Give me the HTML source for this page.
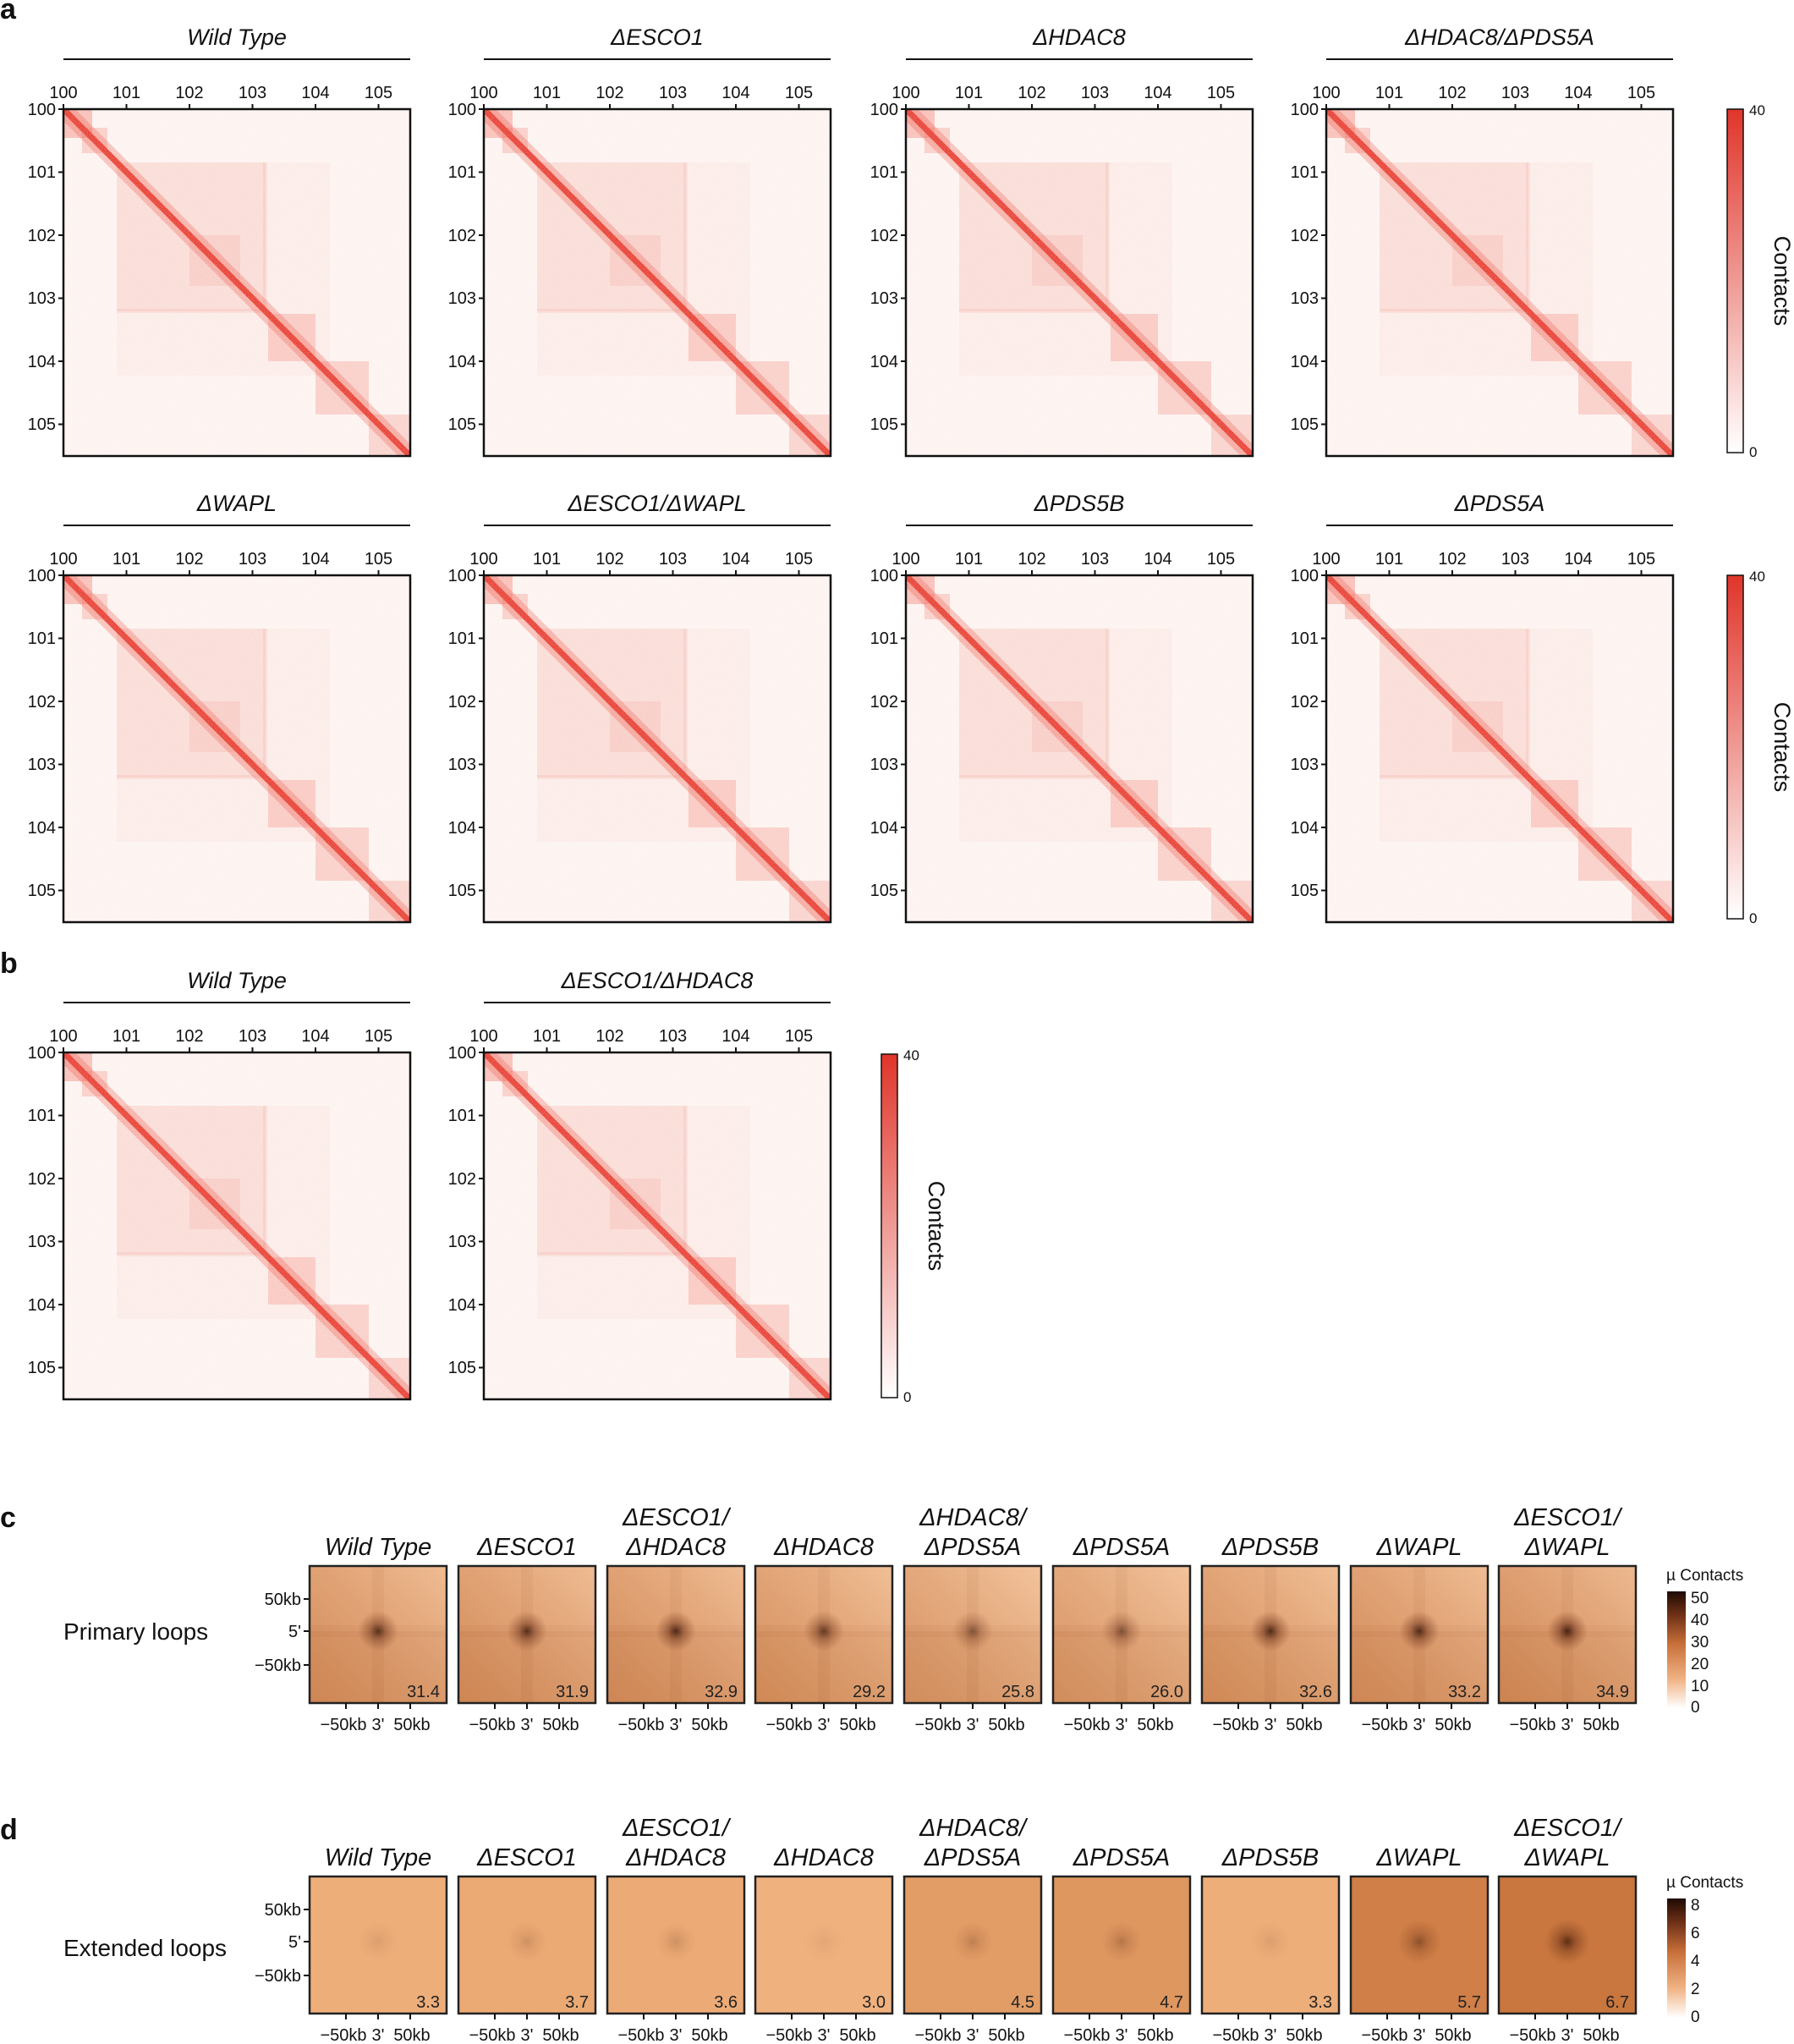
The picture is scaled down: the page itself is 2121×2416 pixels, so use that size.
<!DOCTYPE html>
<html><head><meta charset="utf-8"><style>
html,body{margin:0;padding:0;background:#fff;}
svg{display:block;font-family:"Liberation Sans",Arial,sans-serif;}
</style></head><body>
<svg width="2121" height="2416" viewBox="0 0 2121 2416" xmlns="http://www.w3.org/2000/svg">
<defs>
<clipPath id="cb"><rect x="0" y="0" width="410" height="410"/></clipPath>
<filter id="nz" x="0" y="0" width="1" height="1">
<feTurbulence type="fractalNoise" baseFrequency="1.2" numOctaves="1" seed="3" result="t"/>
<feColorMatrix in="t" type="matrix" values="0 0 0 0 1  0 0 0 0 1  0 0 0 0 1  0 0 0 -2 1.25" result="m"/>
<feComposite in="m" in2="SourceGraphic" operator="in"/>
</filter>
<g id="hmb">
<g clip-path="url(#cb)">
<rect x="0" y="0" width="410" height="410" fill="#fdf3f0"/>
<g fill="#ee5a48">
<rect x="63" y="63" width="176" height="176" opacity="0.11"/>
<rect x="63" y="63" width="252" height="252" opacity="0.05"/>
<rect x="0" y="0" width="34" height="34" opacity="0.35"/>
<rect x="22" y="22" width="30" height="30" opacity="0.25"/>
<rect x="149" y="149" width="60" height="60" opacity="0.12"/>
<rect x="242" y="242" width="56" height="56" opacity="0.25"/>
<rect x="298" y="298" width="63" height="63" opacity="0.25"/>
<rect x="361" y="361" width="49" height="49" opacity="0.22"/>
<rect x="63" y="236" width="176" height="5" opacity="0.1"/>
<rect x="236" y="63" width="5" height="176" opacity="0.1"/>
</g>
<line x1="0" y1="0" x2="410" y2="410" stroke="#ee4a3a" stroke-width="20" opacity="0.3"/>
<line x1="0" y1="0" x2="410" y2="410" stroke="#e8392c" stroke-width="7"/>
<rect x="0" y="0" width="410" height="410" fill="#fff" filter="url(#nz)" opacity="0.45"/>
</g>
</g>
<g id="ax" font-size="20" fill="#111">
<g stroke="#111" stroke-width="2">
<line x1="0" y1="0" x2="0" y2="-6"/><line x1="74.5" y1="0" x2="74.5" y2="-6"/><line x1="149" y1="0" x2="149" y2="-6"/><line x1="223.5" y1="0" x2="223.5" y2="-6"/><line x1="298" y1="0" x2="298" y2="-6"/><line x1="372.5" y1="0" x2="372.5" y2="-6"/>
<line x1="0" y1="0" x2="-6" y2="0"/><line x1="0" y1="74.5" x2="-6" y2="74.5"/><line x1="0" y1="149" x2="-6" y2="149"/><line x1="0" y1="223.5" x2="-6" y2="223.5"/><line x1="0" y1="298" x2="-6" y2="298"/><line x1="0" y1="372.5" x2="-6" y2="372.5"/>
</g>
<rect x="0" y="0" width="410" height="410" fill="none" stroke="#111" stroke-width="2.5"/>
<g text-anchor="middle">
<text x="0" y="-13">100</text><text x="74.5" y="-13">101</text><text x="149" y="-13">102</text><text x="223.5" y="-13">103</text><text x="298" y="-13">104</text><text x="372.5" y="-13">105</text>
</g>
<g text-anchor="end">
<text x="-9" y="7">100</text><text x="-9" y="81">101</text><text x="-9" y="156">102</text><text x="-9" y="230">103</text><text x="-9" y="305">104</text><text x="-9" y="379">105</text>
</g>
</g>
<g id="hm"><use href="#hmb"/><use href="#ax"/><line x1="0" y1="-59" x2="410" y2="-59" stroke="#111" stroke-width="2"/></g>
<linearGradient id="cbr" x1="0" y1="1" x2="0" y2="0"><stop offset="0" stop-color="#fff"/><stop offset="1" stop-color="#e0352a"/></linearGradient>
<linearGradient id="cbo" x1="0" y1="1" x2="0" y2="0"><stop offset="0" stop-color="#fff"/><stop offset="0.25" stop-color="#f0b283"/><stop offset="0.55" stop-color="#c8703a"/><stop offset="0.8" stop-color="#6e3016"/><stop offset="1" stop-color="#1e0a04"/></linearGradient>
<radialGradient id="blob"><stop offset="0" stop-color="#2e1004" stop-opacity="1"/><stop offset="0.4" stop-color="#5a2410" stop-opacity="0.55"/><stop offset="1" stop-color="#7a3518" stop-opacity="0"/></radialGradient>
<linearGradient id="sh" x1="0" y1="1" x2="1" y2="0"><stop offset="0" stop-color="#8a3c12" stop-opacity="0.22"/><stop offset="1" stop-color="#fff4e6" stop-opacity="0.3"/></linearGradient>
<g id="pov">
<rect x="0" y="77" width="162" height="85" fill="#b8642e" opacity="0.15"/>
<rect x="74" y="0" width="14" height="162" fill="#a04e20" opacity="0.1"/>
<rect x="0" y="70" width="162" height="14" fill="#a04e20" opacity="0.08"/>
<rect x="0" y="0" width="162" height="162" fill="url(#sh)"/>
</g>
<g id="pax" font-size="20" fill="#111">
<rect x="0" y="0" width="162" height="162" fill="none" stroke="#222" stroke-width="2.5"/>
<g stroke="#111" stroke-width="2"><line x1="43" y1="162" x2="43" y2="169"/><line x1="81" y1="162" x2="81" y2="169"/><line x1="119" y1="162" x2="119" y2="169"/></g>
<text x="40" y="194" text-anchor="middle">−50kb</text><text x="81" y="194" text-anchor="middle">3'</text><text x="121" y="194" text-anchor="middle">50kb</text>
</g>
</defs>

<g font-weight="bold" font-size="34" fill="#111"><text x="0" y="22">a</text><text x="0" y="1150">b</text><text x="0" y="1805">c</text><text x="0" y="2174">d</text></g>

<use href="#hm" x="75" y="129"/><use href="#hm" x="572" y="129"/><use href="#hm" x="1071" y="129"/><use href="#hm" x="1568" y="129"/>
<use href="#hm" x="75" y="680"/><use href="#hm" x="572" y="680"/><use href="#hm" x="1071" y="680"/><use href="#hm" x="1568" y="680"/>
<use href="#hm" x="75" y="1244"/><use href="#hm" x="572" y="1244"/>

<g font-size="27" font-style="italic" text-anchor="middle" fill="#111">
<text x="280" y="53">Wild Type</text><text x="777" y="53">ΔESCO1</text><text x="1276" y="53">ΔHDAC8</text><text x="1773" y="53">ΔHDAC8/ΔPDS5A</text>
<text x="280" y="604">ΔWAPL</text><text x="777" y="604">ΔESCO1/ΔWAPL</text><text x="1276" y="604">ΔPDS5B</text><text x="1773" y="604">ΔPDS5A</text>
<text x="280" y="1168">Wild Type</text><text x="777" y="1168">ΔESCO1/ΔHDAC8</text>
</g>

<g font-size="17" fill="#111">
<rect x="2042" y="129" width="19" height="406" fill="url(#cbr)" stroke="#111" stroke-width="1.5"/>
<text x="2068" y="136">40</text><text x="2068" y="540">0</text>
<rect x="2042" y="680" width="19" height="406" fill="url(#cbr)" stroke="#111" stroke-width="1.5"/>
<text x="2068" y="687">40</text><text x="2068" y="1091">0</text>
<rect x="1042" y="1246" width="19" height="406" fill="url(#cbr)" stroke="#111" stroke-width="1.5"/>
<text x="1068" y="1253">40</text><text x="1068" y="1657">0</text>
</g>
<g font-size="27" fill="#111" text-anchor="middle">
<text transform="translate(2098,332) rotate(90)">Contacts</text>
<text transform="translate(2098,883) rotate(90)">Contacts</text>
<text transform="translate(1098,1449) rotate(90)">Contacts</text>
</g>

<text x="75" y="1938" font-size="28" fill="#111">Primary loops</text>
<g font-size="20" fill="#111" text-anchor="end">
<text x="356" y="1897">50kb</text><text x="356" y="1935">5'</text><text x="356" y="1975">−50kb</text>
</g>
<g stroke="#111" stroke-width="2"><line x1="359" y1="1890" x2="366" y2="1890"/><line x1="359" y1="1928" x2="366" y2="1928"/><line x1="359" y1="1968" x2="366" y2="1968"/></g>

<g font-size="29" font-style="italic" text-anchor="middle" fill="#111">
<text x="447" y="1838">Wild Type</text>
<text x="623" y="1838">ΔESCO1</text>
<text x="799" y="1803">ΔESCO1/</text><text x="799" y="1838">ΔHDAC8</text>
<text x="974" y="1838">ΔHDAC8</text>
<text x="1150" y="1803">ΔHDAC8/</text><text x="1150" y="1838">ΔPDS5A</text>
<text x="1326" y="1838">ΔPDS5A</text>
<text x="1502" y="1838">ΔPDS5B</text>
<text x="1678" y="1838">ΔWAPL</text>
<text x="1853" y="1803">ΔESCO1/</text><text x="1853" y="1838">ΔWAPL</text>
</g>

<g transform="translate(366,1851)"><rect width="162" height="162" fill="#e9a470"/><use href="#pov"/><circle cx="81" cy="77" r="24" fill="url(#blob)" opacity="0.75"/><use href="#pax"/><text x="154" y="155" font-size="20" text-anchor="end" fill="#222">31.4</text></g>
<g transform="translate(542,1851)"><rect width="162" height="162" fill="#e9a470"/><use href="#pov"/><circle cx="81" cy="77" r="24" fill="url(#blob)" opacity="0.76"/><use href="#pax"/><text x="154" y="155" font-size="20" text-anchor="end" fill="#222">31.9</text></g>
<g transform="translate(718,1851)"><rect width="162" height="162" fill="#e9a470"/><use href="#pov"/><circle cx="81" cy="77" r="24" fill="url(#blob)" opacity="0.8"/><use href="#pax"/><text x="154" y="155" font-size="20" text-anchor="end" fill="#222">32.9</text></g>
<g transform="translate(893,1851)"><rect width="162" height="162" fill="#eba874"/><use href="#pov"/><circle cx="81" cy="77" r="24" fill="url(#blob)" opacity="0.68"/><use href="#pax"/><text x="154" y="155" font-size="20" text-anchor="end" fill="#222">29.2</text></g>
<g transform="translate(1069,1851)"><rect width="162" height="162" fill="#eeae7c"/><use href="#pov"/><circle cx="81" cy="77" r="24" fill="url(#blob)" opacity="0.5"/><use href="#pax"/><text x="154" y="155" font-size="20" text-anchor="end" fill="#222">25.8</text></g>
<g transform="translate(1245,1851)"><rect width="162" height="162" fill="#eeae7c"/><use href="#pov"/><circle cx="81" cy="77" r="24" fill="url(#blob)" opacity="0.52"/><use href="#pax"/><text x="154" y="155" font-size="20" text-anchor="end" fill="#222">26.0</text></g>
<g transform="translate(1421,1851)"><rect width="162" height="162" fill="#eba874"/><use href="#pov"/><circle cx="81" cy="77" r="24" fill="url(#blob)" opacity="0.8"/><use href="#pax"/><text x="154" y="155" font-size="20" text-anchor="end" fill="#222">32.6</text></g>
<g transform="translate(1597,1851)"><rect width="162" height="162" fill="#e9a470"/><use href="#pov"/><circle cx="81" cy="77" r="24" fill="url(#blob)" opacity="0.8"/><use href="#pax"/><text x="154" y="155" font-size="20" text-anchor="end" fill="#222">33.2</text></g>
<g transform="translate(1772,1851)"><rect width="162" height="162" fill="#e6a06c"/><use href="#pov"/><circle cx="81" cy="77" r="24" fill="url(#blob)" opacity="0.85"/><use href="#pax"/><text x="154" y="155" font-size="20" text-anchor="end" fill="#222">34.9</text></g>

<g font-size="19" fill="#111">
<text x="1970" y="1868">µ Contacts</text>
<rect x="1971" y="1881" width="22" height="138" fill="url(#cbo)"/>
<text x="1999" y="1895">50</text><text x="1999" y="1921">40</text><text x="1999" y="1947">30</text><text x="1999" y="1973">20</text><text x="1999" y="1999">10</text><text x="1999" y="2024">0</text>
</g>

<text x="75" y="2312" font-size="28" fill="#111">Extended loops</text>
<g font-size="20" fill="#111" text-anchor="end">
<text x="356" y="2264">50kb</text><text x="356" y="2302">5'</text><text x="356" y="2342">−50kb</text>
</g>
<g stroke="#111" stroke-width="2"><line x1="359" y1="2257" x2="366" y2="2257"/><line x1="359" y1="2295" x2="366" y2="2295"/><line x1="359" y1="2335" x2="366" y2="2335"/></g>

<g font-size="29" font-style="italic" text-anchor="middle" fill="#111">
<text x="447" y="2205">Wild Type</text>
<text x="623" y="2205">ΔESCO1</text>
<text x="799" y="2170">ΔESCO1/</text><text x="799" y="2205">ΔHDAC8</text>
<text x="974" y="2205">ΔHDAC8</text>
<text x="1150" y="2170">ΔHDAC8/</text><text x="1150" y="2205">ΔPDS5A</text>
<text x="1326" y="2205">ΔPDS5A</text>
<text x="1502" y="2205">ΔPDS5B</text>
<text x="1678" y="2205">ΔWAPL</text>
<text x="1853" y="2170">ΔESCO1/</text><text x="1853" y="2205">ΔWAPL</text>
</g>

<g transform="translate(366,2218)"><rect width="162" height="162" fill="#eeae7a"/><circle cx="81" cy="77" r="24" fill="url(#blob)" opacity="0.1"/><use href="#pax"/><text x="154" y="155" font-size="20" text-anchor="end" fill="#222">3.3</text></g>
<g transform="translate(542,2218)"><rect width="162" height="162" fill="#eba974"/><circle cx="81" cy="77" r="24" fill="url(#blob)" opacity="0.15"/><use href="#pax"/><text x="154" y="155" font-size="20" text-anchor="end" fill="#222">3.7</text></g>
<g transform="translate(718,2218)"><rect width="162" height="162" fill="#ecab76"/><circle cx="81" cy="77" r="24" fill="url(#blob)" opacity="0.17"/><use href="#pax"/><text x="154" y="155" font-size="20" text-anchor="end" fill="#222">3.6</text></g>
<g transform="translate(893,2218)"><rect width="162" height="162" fill="#efb17e"/><circle cx="81" cy="77" r="24" fill="url(#blob)" opacity="0.07"/><use href="#pax"/><text x="154" y="155" font-size="20" text-anchor="end" fill="#222">3.0</text></g>
<g transform="translate(1069,2218)"><rect width="162" height="162" fill="#e29c66"/><circle cx="81" cy="77" r="24" fill="url(#blob)" opacity="0.2"/><use href="#pax"/><text x="154" y="155" font-size="20" text-anchor="end" fill="#222">4.5</text></g>
<g transform="translate(1245,2218)"><rect width="162" height="162" fill="#df9760"/><circle cx="81" cy="77" r="24" fill="url(#blob)" opacity="0.25"/><use href="#pax"/><text x="154" y="155" font-size="20" text-anchor="end" fill="#222">4.7</text></g>
<g transform="translate(1421,2218)"><rect width="162" height="162" fill="#eeae7a"/><circle cx="81" cy="77" r="24" fill="url(#blob)" opacity="0.1"/><use href="#pax"/><text x="154" y="155" font-size="20" text-anchor="end" fill="#222">3.3</text></g>
<g transform="translate(1597,2218)"><rect width="162" height="162" fill="#cf7f47"/><circle cx="81" cy="77" r="26" fill="url(#blob)" opacity="0.42"/><use href="#pax"/><text x="154" y="155" font-size="20" text-anchor="end" fill="#222">5.7</text></g>
<g transform="translate(1772,2218)"><rect width="162" height="162" fill="#c9773f"/><circle cx="81" cy="77" r="27" fill="url(#blob)" opacity="0.7"/><use href="#pax"/><text x="154" y="155" font-size="20" text-anchor="end" fill="#222">6.7</text></g>

<g font-size="19" fill="#111">
<text x="1970" y="2231">µ Contacts</text>
<rect x="1971" y="2244" width="22" height="141" fill="url(#cbo)"/>
<text x="1999" y="2258">8</text><text x="1999" y="2291">6</text><text x="1999" y="2324">4</text><text x="1999" y="2357">2</text><text x="1999" y="2390">0</text>
</g>
</svg>
</body></html>
